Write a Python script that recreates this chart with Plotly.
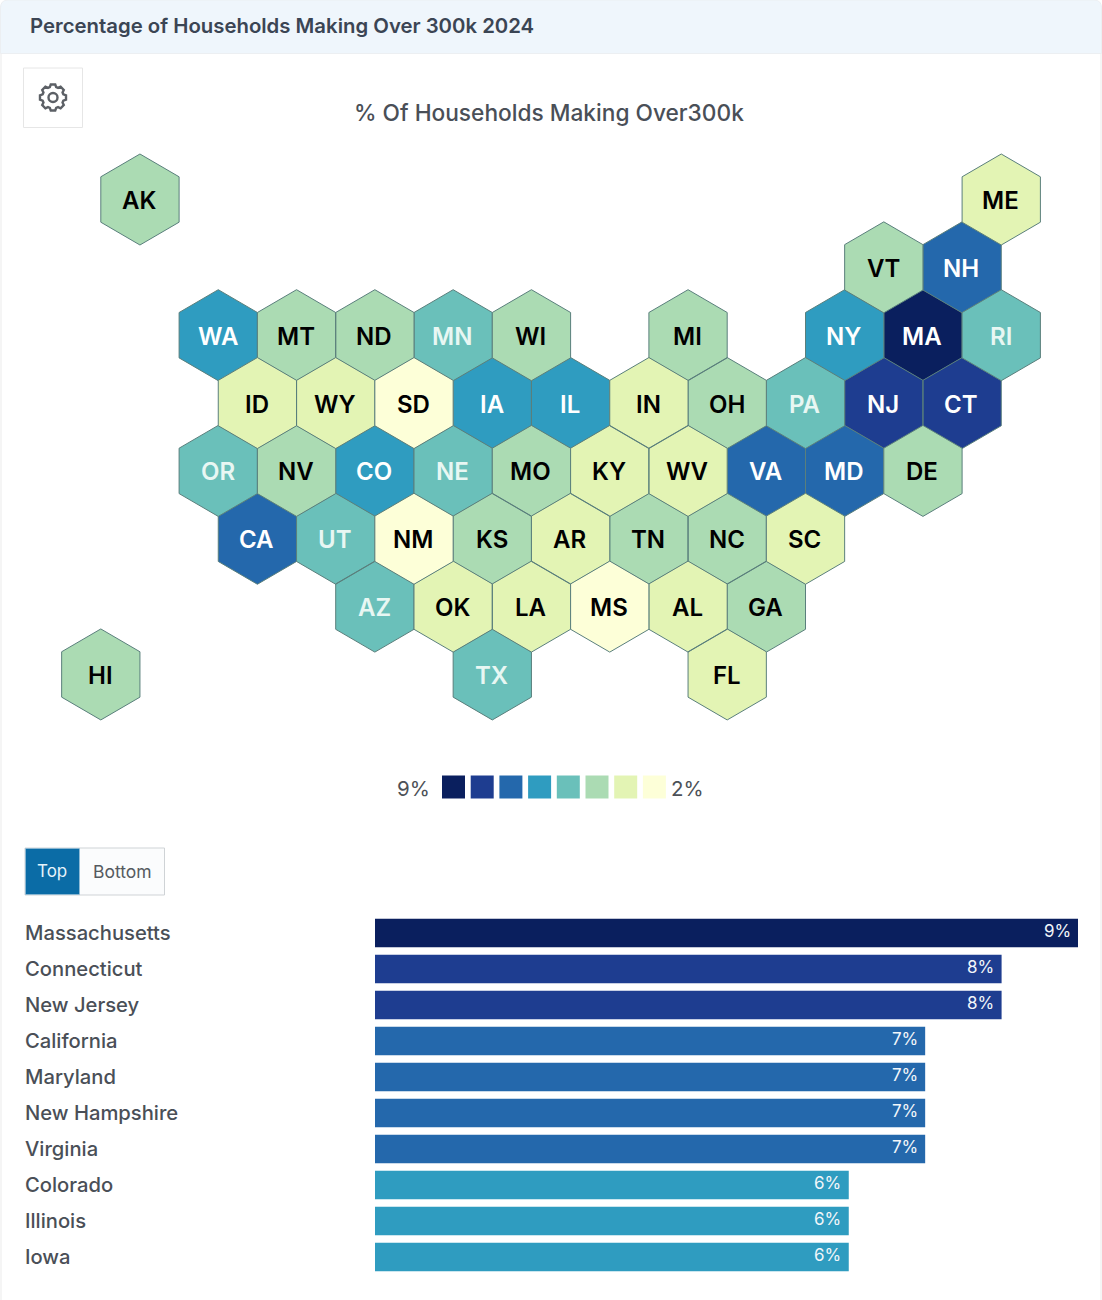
import math
import plotly.graph_objects as go

W, H = 1102, 1300
FONT = "Inter, 'Noto Sans', sans-serif"

# Cartogram data
states = ["AK","ME","VT","NH","WA","MT","ND","MN","WI","MI","NY","MA","RI",
          "ID","WY","SD","IA","IL","IN","OH","PA","NJ","CT",
          "OR","NV","CO","NE","MO","KY","WV","VA","MD","DE",
          "CA","UT","NM","KS","AR","TN","NC","SC",
          "AZ","OK","LA","MS","AL","GA",
          "HI","TX","FL"]
state_pct = [4,3,4,7,6,4,4,5,4,4,6,9,5,
             3,3,2,6,6,3,4,5,8,8,
             5,4,6,5,4,3,3,7,7,4,
             7,5,2,4,3,4,4,3,
             5,3,3,2,3,4,
             4,5,3]
grid_col = [1,23,20,22,3,5,7,9,11,15,19,21,23,
            4,6,8,10,12,14,16,18,20,22,
            3,5,7,9,11,13,15,17,19,21,
            4,6,8,10,12,14,16,18,
            7,9,11,13,15,17,
            0,10,16]
grid_row = [0,0,1,1,2,2,2,2,2,2,2,2,2,
            3,3,3,3,3,3,3,3,3,3,
            4,4,4,4,4,4,4,4,4,4,
            5,5,5,5,5,5,5,5,
            6,6,6,6,6,6,
            7,7,7]

# Ranking data
bar_names = ["Massachusetts","Connecticut","New Jersey","California","Maryland",
             "New Hampshire","Virginia","Colorado","Illinois","Iowa"]
bar_pct = [9,8,8,7,7,7,7,6,6,6]

# Colour bins, highest share first
legend_bins = [9,8,7,6,5,4,3,2]
bin_colors = ["#0a1f5e","#1e3d90","#2468ac","#2f9cc0","#6ac0ba","#abdbb3","#e3f4b4","#fdffd8"]
color_of = dict(zip(legend_bins, bin_colors))

# Pixel geometry of the hex grid
COL_PX, ROW_PX = 39.15, 67.85
ORIGIN_X, ORIGIN_Y = 100.8, 199.5
HEX_TIP = 45.5 / ROW_PX
HEX_SHOULDER = 22.7 / ROW_PX


def px(x):
    return x / W


def py(y):
    return 1 - y / H


fig = go.Figure()

# One filled trace per colour bin, polygons separated by gaps
for b in legend_bins:
    xs, ys = [], []
    for c, r, v in zip(grid_col, grid_row, state_pct):
        if v == b:
            xs += [c, c + 1, c + 1, c, c - 1, c - 1, c, None]
            ys += [r - HEX_TIP, r - HEX_SHOULDER, r + HEX_SHOULDER, r + HEX_TIP,
                   r + HEX_SHOULDER, r - HEX_SHOULDER, r - HEX_TIP, None]
    fig.add_trace(go.Scatter(x=xs, y=ys, mode="lines", fill="toself", fillcolor=color_of[b],
                             line=dict(color="#5a7f7c", width=1), hoverinfo="skip",
                             showlegend=False, xaxis="x", yaxis="y"))

# Ranking bars start slightly left of zero on the value axis
AXIS_START = -0.2
fig.add_trace(go.Bar(
    y=bar_names, x=[v - AXIS_START for v in bar_pct], base=AXIS_START, orientation="h",
    marker=dict(color=[color_of[v] for v in bar_pct], line=dict(width=0)),
    width=0.79, hoverinfo="skip", showlegend=False, xaxis="x2", yaxis="y2"))

annotations = []

# State codes sit on their hexagons
for code, c, r, v in zip(states, grid_col, grid_row, state_pct):
    tone = "#ffffff" if v >= 6 else ("#e8f7f3" if v == 5 else "#000000")
    annotations.append(dict(x=c, y=r, xref="x", yref="y", text=code, showarrow=False,
                            xanchor="center", yanchor="middle", xshift=-0.7, yshift=-1,
                            font=dict(family=FONT, size=24, weight=600, color=tone)))


def label(x, y, text, size, color, anchor="left", weight=400):
    annotations.append(dict(x=px(x), y=py(y), xref="paper", yref="paper", text=text, showarrow=False,
                            xanchor=anchor, yanchor="middle",
                            font=dict(family=FONT, size=size, color=color, weight=weight)))


label(27.8, 25.2, "Percentage of Households Making Over 300k 2024", 20.35, "#3b4554", weight=600)
label(549, 113, "% Of Households Making Over300k", 22.7, "#4a4f57", "center", 500)
label(432, 788.5, "9%", 20.5, "#4d5157", "right")
label(669, 788.5, "2%", 20.5, "#4d5157", "left")
label(52, 871, "Top", 17, "#e6f4fb", "center")
label(122.5, 871, "Bottom", 17.5, "#555a60", "center")

for name, v in zip(bar_names, bar_pct):
    annotations.append(dict(x=0, y=name, xref="paper", yref="y2", xshift=23, yshift=1, text=name, showarrow=False,
                            xanchor="left", yanchor="middle",
                            font=dict(family=FONT, size=20.2, color="#4a4f57", weight=500)))
    annotations.append(dict(x=v, y=name, xref="x2", yref="y2", xshift=-5.5, yshift=2, text=f"{v}%",
                            showarrow=False, xanchor="right", yanchor="middle",
                            font=dict(family=FONT, size=17, color="#f2f6fa")))


def rect(x0, y0, x1, y1, fill, line="rgba(0,0,0,0)", width=0, layer="below"):
    return dict(type="rect", xref="paper", yref="paper", x0=px(x0), y0=py(y0), x1=px(x1), y1=py(y1),
                fillcolor=fill, line=dict(color=line, width=width), layer=layer)


shapes = [
    # Card edges and header band
    rect(0.5, 6, 1.5, H, "#ececec"),
    rect(1100.5, 6, 1101.5, H, "#ececec"),
    dict(type="path", xref="paper", yref="paper", layer="below", fillcolor="#eff6fc",
         line=dict(color="#eceff2", width=1),
         path=f"M {px(0.5)} {py(53.5)} L {px(0.5)} {py(8)} Q {px(0.5)} {py(0)} {px(8)} {py(0)} "
              f"L {px(1094)} {py(0)} Q {px(1101.5)} {py(0)} {px(1101.5)} {py(8)} L {px(1101.5)} {py(53.5)} Z"),
    # Settings button
    rect(23.5, 68, 82.5, 127.5, "#ffffff", "#e6e6e6", 1),
    # Top / Bottom toggle
    rect(25, 848, 164.5, 895, "#fbfcfd", "#cfd3d6", 1),
    rect(25.5, 848.5, 79.5, 894.5, "#0b6ca6", "#9cc3da", 0.5),
]

# Gear outline for the settings button
GX, GY = 53, 97.5
teeth = 8
gear = []
for i in range(teeth):
    a = 2 * math.pi * i / teeth - math.pi / 2
    for da, rad in [(-0.3, 10.8), (-0.17, 13.2), (0.17, 13.2), (0.3, 10.8)]:
        gear.append((GX + rad * math.cos(a + da), GY + rad * math.sin(a + da)))
gear_path = "M " + " L ".join(f"{px(x)} {py(y)}" for x, y in gear) + " Z"
shapes.append(dict(type="path", xref="paper", yref="paper", path=gear_path, layer="above",
                   fillcolor="rgba(0,0,0,0)", line=dict(color="#5c6066", width=2.4)))
shapes.append(dict(type="circle", xref="paper", yref="paper", layer="above",
                   x0=px(GX - 4.5), x1=px(GX + 4.5), y0=py(GY - 4.5), y1=py(GY + 4.5),
                   fillcolor="rgba(0,0,0,0)", line=dict(color="#5c6066", width=2.4)))

# Colour key
for i, c in enumerate(bin_colors):
    x0 = 442 + i * 28.7
    shapes.append(rect(x0, 775.5, x0 + 23, 798.5, c))

fig.update_layout(
    width=W, height=H, margin=dict(l=0, r=0, t=0, b=0, pad=0),
    paper_bgcolor="#ffffff", plot_bgcolor="rgba(0,0,0,0)",
    hovermode="closest", shapes=shapes, annotations=annotations,
    xaxis=dict(domain=[0, 1], range=[-ORIGIN_X / COL_PX, (W - ORIGIN_X) / COL_PX], visible=False, fixedrange=True),
    yaxis=dict(domain=[0, 1], range=[(H - ORIGIN_Y) / ROW_PX, -ORIGIN_Y / ROW_PX], visible=False, fixedrange=True),
    xaxis2=dict(domain=[px(375), px(1078)], range=[AXIS_START, 9], anchor="y2", visible=False, fixedrange=True),
    yaxis2=dict(domain=[py(1275), py(915)], range=[9.5, -0.5], anchor="x2", visible=False, fixedrange=True,
                type="category", categoryorder="array", categoryarray=bar_names),
)

fig.write_html("out.html", config={"displayModeBar": False})
